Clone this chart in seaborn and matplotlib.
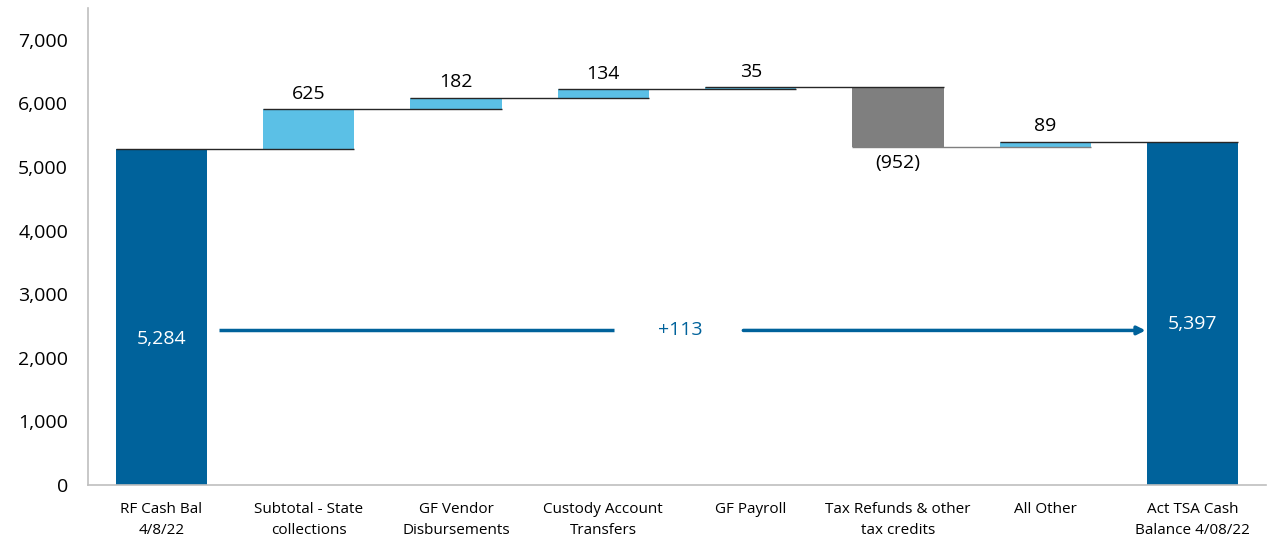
import numpy as np
import pandas as pd
import matplotlib.pyplot as plt
import seaborn as sns

# waterfall data (millions)
categories = ["RF Cash Bal\n4/8/22", "Subtotal - State\ncollections", "GF Vendor\nDisbursements",
              "Custody Account\nTransfers", "GF Payroll", "Tax Refunds & other\ntax credits",
              "All Other", "Act TSA Cash\nBalance 4/08/22"]
start_balance = 5284
changes = [625, 182, 134, 35, -952, 89]
end_balance = 5397
net_label = "+113"

# build bottoms / heights
running = [start_balance]
for c in changes:
    running.append(running[-1] + c)
bottoms = [0] + [min(running[i], running[i + 1]) for i in range(len(changes))] + [0]
heights = [start_balance] + [abs(c) for c in changes] + [end_balance]
levels = running  # level after each bar 0..6

DARK = "#00629B"
LIGHT = "#5BC0E6"
GREY = "#7F7F7F"
colors = [DARK] + [LIGHT if c > 0 else GREY for c in changes] + [DARK]

df = pd.DataFrame({"cat": categories, "height": heights, "bottom": bottoms})

sns.set_style("white")
plt.rcParams["font.family"] = ["Open Sans", "DejaVu Sans"]
plt.rcParams["text.color"] = "black"
plt.rcParams["xtick.color"] = "black"
plt.rcParams["ytick.color"] = "black"

fig, ax = plt.subplots(figsize=(12.69, 5.4), dpi=100)
fig.subplots_adjust(left=0.069, right=0.998, top=0.985, bottom=0.102)

bw = 0.62
sns.barplot(data=df, x="cat", y="height", bottom=df["bottom"].values, width=bw,
            color=DARK, saturation=1, linewidth=0, ax=ax)
for p, col in zip(ax.patches, colors):
    p.set_facecolor(col)

# connectors
for i, lvl in enumerate(levels):
    ax.hlines(lvl, i - bw / 2, i + 1 + bw / 2, color="#262626" if i != 5 else GREY,
              lw=1, zorder=3)

# value labels
for i, c in enumerate(changes, start=1):
    if c > 0:
        ax.text(i, running[i] + 100, f"{c:,}", ha="center", va="bottom", fontsize=14)
    else:
        ax.text(i, running[i] - 110, f"({abs(c):,})", ha="center", va="top", fontsize=14)
ax.text(0, 2300, f"{start_balance:,}", ha="center", va="center", color="white", fontsize=14)
ax.text(7, 2530, f"{end_balance:,}", ha="center", va="center", color="white", fontsize=14)

# net change arrow
arrow_y = 2430
ax.plot([0.39, 3.07], [arrow_y, arrow_y], color=DARK, lw=2.5, solid_capstyle="butt")
ax.annotate("", xy=(6.68, arrow_y), xytext=(3.95, arrow_y),
            arrowprops=dict(arrowstyle="-|>", color=DARK, lw=2.5, mutation_scale=12,
                            shrinkA=0, shrinkB=0))
ax.text(3.52, arrow_y, net_label, ha="center", va="center", color=DARK, fontsize=14)

ax.set_xlim(-0.5, 7.5)
ax.set_ylim(0, 7500)
ax.set_yticks(range(0, 7001, 1000))
ax.yaxis.set_major_formatter(plt.FuncFormatter(lambda v, _: f"{int(v):,}"))
ax.tick_params(axis="y", labelsize=14, length=0, pad=14)
ax.tick_params(axis="x", labelsize=11, length=0, pad=12)
for lbl in ax.get_xticklabels():
    lbl.set_linespacing(1.55)
ax.set_xlabel("")
ax.set_ylabel("")
for s in ["top", "right"]:
    ax.spines[s].set_visible(False)
for s in ["left", "bottom"]:
    ax.spines[s].set_color("#BFBFBF")
    ax.spines[s].set_linewidth(1.2)

fig.savefig("out.png", dpi=100)
